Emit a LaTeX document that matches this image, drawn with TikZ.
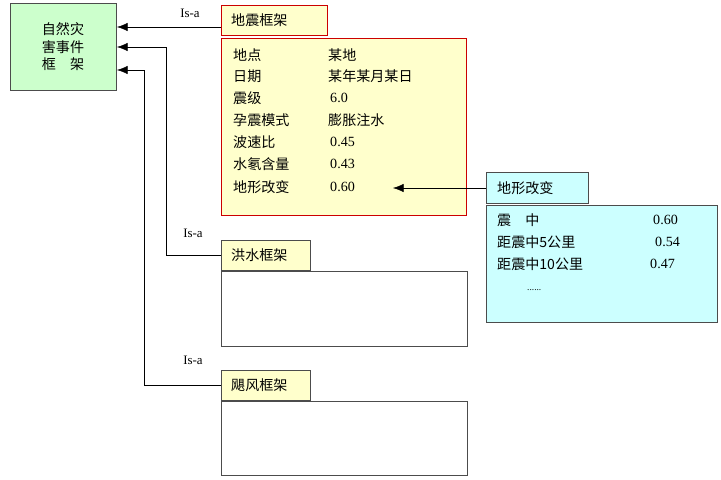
\documentclass[tikz,border=0pt]{standalone}
\usepackage{fontspec}
\setmainfont{Liberation Serif}
\newfontfamily\cjk{Noto Sans CJK SC}
\usetikzlibrary{arrows.meta}
\definecolor{framegreen}{RGB}{204,255,204}
\definecolor{frameyellow}{RGB}{255,255,204}
\definecolor{framecyan}{RGB}{204,255,255}
\definecolor{framered}{RGB}{204,0,0}
\tikzset{
	slot/.style={anchor=west, inner sep=0pt, font=\fontsize{12}{14}\selectfont\cjk},
	num/.style={anchor=west, inner sep=0pt, font=\fontsize{12}{14}\selectfont},
	isa/.style={inner sep=0pt, font=\fontsize{11}{13}\selectfont},
	link/.style={-{Latex[length=9pt,width=7pt]}, thin}
}
\begin{document}
\begin{tikzpicture}[x=0.03cm, y=-0.03cm]
	\useasboundingbox (0,0) rectangle (721,480);
	% Oberrahmen
	\filldraw[draw=black!70, fill=framegreen] (10,3) rectangle (116,90);
	\node (top) at (63,47) {};
	\node[font=\fontsize{12}{14}\selectfont\cjk, align=center, inner sep=0pt] at (63,47)
		{自然灾\\[1pt]害事件\\[1pt]框\quad 架};
	\coordinate (t1) at (117,27);
	\coordinate (t2) at (117,47);
	\coordinate (t3) at (117,70);

	% Erdbeben-Rahmen
	\filldraw[thick, draw=framered, fill=frameyellow] (221,5) rectangle (327,35);
	\node[slot] (eq) at (231,20) {地震框架};
	\filldraw[thick, draw=framered, fill=frameyellow] (221,38) rectangle (466,215);
	\foreach \y/\a/\b in {55/地点/某地, 76/日期/某年某月某日, 120/孕震模式/膨胀注水}
		\node[slot] at (233,\y) {\a} node[slot] at (328,\y) {\b};
	\foreach \y/\a/\b in {98/震级/6.0, 142/波速比/0.45, 164/水氡含量/0.43, 187/地形改变/0.60}
		\node[slot] at (233,\y) {\a} node[num] at (330,\y) {\b};
	\coordinate (slotend) at (393,188);

	% Teilrahmen
	\filldraw[draw=black!70, fill=framecyan] (486,172) rectangle (588,203);
	\node[slot] (land) at (497,188) {地形改变};
	\filldraw[draw=black!70, fill=framecyan] (486,205) rectangle (717,322);
	\node[slot] at (497,220) {震\quad 中};
	\node[slot] at (497,242) {距震中5公里};
	\node[slot] at (497,264) {距震中10公里};
	\node[num] at (653,220) {0.60};
	\node[num] at (655,242) {0.54};
	\node[num] at (650,264) {0.47};
	\node[num] at (527,290) {\footnotesize ......};

	% Hochwasser und Taifun
	\filldraw[draw=black!70, fill=frameyellow] (221,240) rectangle (310,270);
	\node[slot] (flood) at (231,255) {洪水框架};
	\draw[draw=black!70] (221,271) rectangle (467,346);
	\filldraw[draw=black!70, fill=frameyellow] (221,370) rectangle (310,400);
	\node[slot] (storm) at (231,385) {飓风框架};
	\draw[draw=black!70] (221,401) rectangle (467,475);

	% Verbindungen
	\draw[link] (221,27) -- (t1);
	\draw[link] (221,255) -- (166,255) -- (166,47) -- (t2);
	\draw[link] (221,385) -- (144,385) -- (144,70) -- (t3);
	\draw[link] (486,188) -- (slotend);
	\node[isa] at (190,13) {Is-a};
	\node[isa] at (193,233) {Is-a};
	\node[isa] at (193,360) {Is-a};
\end{tikzpicture}
\end{document}
